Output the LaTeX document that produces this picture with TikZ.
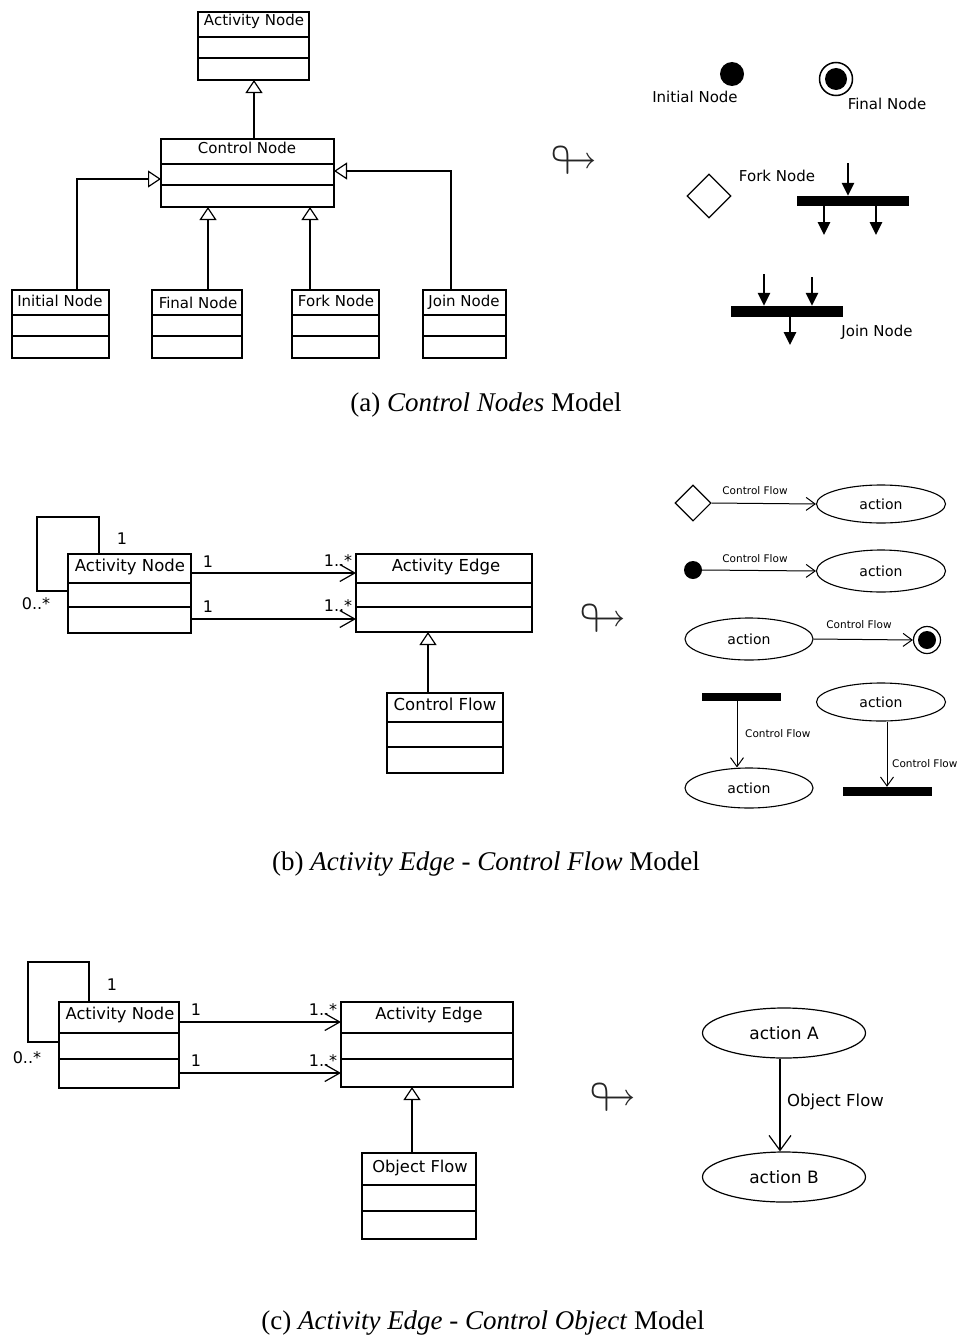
\documentclass[tikz,border=0pt]{standalone}
\usepackage{amssymb}
\usepackage{fontspec}
\setmainfont{Liberation Serif}
\newfontfamily\dv{DejaVu Sans}
\usetikzlibrary{arrows.meta,shapes.geometric}
\newcommand\bfs{15}
\newcommand\umlbox[9]{%
  \node[classbox, minimum width={(#4-#2)*1pt}, minimum height={(#5-#3)*1pt}] (#1) at ({(#2+#4)/2},{(#3+#5)/2}) {};
  \draw[divider] (#1.west |- 0,#6) -- (#1.east |- 0,#6);
  \draw[divider] (#1.west |- 0,#7) -- (#1.east |- 0,#7);
  \node[ctext, font={\dv\fontsize{\bfs}{\bfs}\selectfont}] (#1-t) at (#8) {#9};
}
\tikzset{
  classbox/.style={draw, line width=1.3pt, inner sep=0pt, outer sep=0pt},
  divider/.style={line width=2.3pt},
  ctext/.style={anchor=base, inner sep=0pt},
  conn/.style={line width=1.2pt},
  gen/.style={line width=1.2pt, -{Triangle[open, length=13pt, width=17pt]}},
  assoc/.style={line width=1.2pt, -{Straight Barb[length=15pt, width=17pt]}},
  cflow/.style={line width=1pt, -{Straight Barb[length=9pt, width=13pt]}},
  oflow/.style={line width=1.2pt, -{Straight Barb[length=15pt, width=22pt]}},
  forkarr/.style={line width=2.6pt, -{Triangle[length=13pt, width=12pt]}},
  mult/.style={font={\dv\fontsize{16}{19}\selectfont}, inner sep=0pt},
  symlbl/.style={font={\dv\fontsize{15}{18}\selectfont}, inner sep=0pt},
  cfl/.style={font={\dv\fontsize{10.5}{12}\selectfont}, inner sep=0pt},
  actell/.style={ellipse, draw, line width=1.1pt, inner sep=0pt, font={\dv\fontsize{14}{16}\selectfont}},
  bigell/.style={ellipse, draw, line width=1.2pt, inner sep=0pt, font={\dv\fontsize{17}{20}\selectfont}},
  dot/.style={circle, fill=black, inner sep=0pt},
  ring/.style={circle, draw, fill=white, line width=1.5pt, inner sep=0pt},
  bar/.style={fill=black, inner sep=0pt},
  loopsym/.style={inner sep=0pt, text=black!85, font={\fontsize{46}{50}\selectfont}},
  caption/.style={inner sep=0pt, font={\fontsize{27}{32}\selectfont}}
}
\begin{document}
\begin{tikzpicture}[x=1pt, y=-1pt]
\fill[white] (0,0) rectangle (962,1338);
\useasboundingbox (0,0) rectangle (962,1338);

% ---------------- (a) ----------------
\renewcommand\bfs{15}
\umlbox{an}{198}{12}{309}{80}{37}{58}{254,26}{Activity Node}
\umlbox{cn}{161}{139}{334}{207}{164}{185}{247,153}{Control Node}
\umlbox{in}{12}{290}{109}{358}{315}{336}{60,306}{Initial Node}
\umlbox{fn}{152}{290}{242}{358}{315}{336}{198,308}{Final Node}
\umlbox{fk}{292}{290}{379}{358}{315}{336}{336,306}{Fork Node}
\umlbox{jn}{423}{290}{506}{358}{315}{336}{464,306}{Join Node}
\draw[gen] (cn.north -| 254,0) -- (an.south -| 254,0);
\draw[gen] (in.north -| 77,0) |- (cn.west |- 0,179);
\draw[gen] (fn.north -| 208,0) -- (cn.south -| 208,0);
\draw[gen] (fk.north -| 310,0) -- (cn.south -| 310,0);
\draw[gen] (jn.north -| 451,0) |- (cn.east |- 0,171);

\node[loopsym] (la) at (574,160) {$\looparrowright$};

\node[dot, minimum size=24pt] (sinit) at (732,74) {};
\node[symlbl] (sinit-l) at (695,97) {Initial Node};
\node[ring, minimum size=33pt] (sfin) at (836,79) {};
\node[dot, minimum size=22pt] (sfin-i) at (836,79) {};
\node[symlbl] (sfin-l) at (887,104) {Final Node};
\node[diamond, draw, line width=1.2pt, inner sep=0pt, minimum size=44pt] (sdec) at (709,196) {};
\node[symlbl] (sfork-l) at (777,176) {Fork Node};
\node[bar, minimum width=112pt, minimum height=10pt] (fbar) at (853,201) {};
\coordinate (fin1) at (848,163);
\coordinate (fout1) at (824,235);
\coordinate (fout2) at (876,235);
\draw[forkarr] (fin1) -- (fbar.north -| fin1);
\draw[forkarr] (fbar.south -| fout1) -- (fout1);
\draw[forkarr] (fbar.south -| fout2) -- (fout2);
\node[bar, minimum width=112pt, minimum height=11pt] (jbar) at (787,311.5) {};
\coordinate (jin1) at (764,274);
\coordinate (jin2) at (812,277);
\coordinate (jout) at (790,345);
\draw[forkarr] (jin1) -- (jbar.north -| jin1);
\draw[forkarr] (jin2) -- (jbar.north -| jin2);
\draw[forkarr] (jbar.south -| jout) -- (jout);
\node[symlbl] (sjoin-l) at (877,332) {Join Node};

\node[caption] (capa) at (486,405) {(a) \textit{Control Nodes} Model};

% ---------------- (b) ----------------
\renewcommand\bfs{16.5}
\umlbox{anb}{68}{554}{191}{633}{583}{607}{130,571}{Activity Node}
\umlbox{aeb}{356}{554}{532}{632}{583}{607}{446,571}{Activity Edge}
\umlbox{cfb}{387}{693}{503}{773}{722}{747}{445,710}{Control Flow}
\draw[conn] (anb.north -| 99,0) |- (37,517) |- (anb.west |- 0,591);
\draw[assoc] (anb.east |- 0,573) -- (aeb.west |- 0,573);
\draw[assoc] (anb.east |- 0,619) -- (aeb.west |- 0,619);
\draw[gen] (cfb.north -| 428,0) -- (aeb.south -| 428,0);
\node[mult] (mb1) at (122,539) {1};
\node[mult] (mb2) at (36,604) {0..*};
\node[mult] (mb3) at (208,562) {1};
\node[mult] (mb4) at (338,561) {1..*};
\node[mult] (mb5) at (208,607) {1};
\node[mult] (mb6) at (338,606) {1..*};

\node[loopsym] (lb) at (603,618) {$\looparrowright$};

\node[diamond, draw, line width=1.1pt, inner sep=0pt, minimum size=36pt] (d1) at (693,503) {};
\node[actell, minimum width=129pt, minimum height=38pt] (e1) at (881,504) {action};
\draw[cflow] (d1.east) -- (e1.west);
\node[cfl] (l1) at (755,491) {Control Flow};

\node[dot, minimum size=18pt] (i2) at (693,570) {};
\node[actell, minimum width=129pt, minimum height=42pt] (e2) at (881,571) {action};
\draw[cflow] (i2.east) -- (e2.west);
\node[cfl] (l2) at (755,559) {Control Flow};

\node[actell, minimum width=128pt, minimum height=42pt] (e3) at (749,639) {action};
\node[ring, line width=1.2pt, minimum size=27pt] (f3) at (927,640) {};
\node[dot, minimum size=18pt] (f3i) at (927,640) {};
\draw[cflow] (e3.east) -- (f3.west);
\node[cfl] (l3) at (859,625) {Control Flow};

\node[bar, minimum width=79pt, minimum height=8pt] (b4) at (741.5,697) {};
\node[actell, minimum width=128pt, minimum height=40pt] (e4) at (749,788) {action};
\draw[cflow] (b4.south -| 737,0) -- (e4.north -| 737,0);
\node[cfl, anchor=west] (l4) at (745,734) {Control Flow};

\node[actell, minimum width=129pt, minimum height=38pt] (e5) at (881,702) {action};
\node[bar, minimum width=89pt, minimum height=9pt] (b5) at (887.5,791.5) {};
\draw[cflow] (e5.south -| 887,0) -- (b5.north -| 887,0);
\node[cfl, anchor=west] (l5) at (892,764) {Control Flow};

\node[caption] (capb) at (486,864) {(b) \textit{Activity Edge - Control Flow} Model};

% ---------------- (c) ----------------
\renewcommand\bfs{16.3}
\umlbox{anc}{59}{1002}{179}{1088}{1033}{1059}{120,1019}{Activity Node}
\umlbox{aec}{341}{1002}{513}{1087}{1033}{1059}{429,1019}{Activity Edge}
\umlbox{ofc}{362}{1153}{476}{1239}{1185}{1211}{420,1172}{Object Flow}
\draw[conn] (anc.north -| 89,0) |- (28,962) |- (anc.west |- 0,1042);
\draw[assoc] (anc.east |- 0,1022) -- (aec.west |- 0,1022);
\draw[assoc] (anc.east |- 0,1073) -- (aec.west |- 0,1073);
\draw[gen] (ofc.north -| 412,0) -- (aec.south -| 412,0);
\node[mult] (mc1) at (112,985) {1};
\node[mult] (mc2) at (27,1058) {0..*};
\node[mult] (mc3) at (196,1010) {1};
\node[mult] (mc4) at (323,1010) {1..*};
\node[mult] (mc5) at (196,1061) {1};
\node[mult] (mc6) at (323,1061) {1..*};

\node[loopsym] (lc) at (613,1097) {$\looparrowright$};

\node[bigell, minimum width=163pt, minimum height=50pt] (ea) at (784,1033) {action A};
\node[bigell, minimum width=163pt, minimum height=50pt] (eb) at (784,1177) {action B};
\draw[oflow] (ea.south -| 780,0) -- (eb.north -| 780,0);
\node[font={\dv\fontsize{16.5}{19}\selectfont}, inner sep=0pt, anchor=west] (lof) at (787,1102) {Object Flow};

\node[caption] (capc) at (483,1323) {(c) \textit{Activity Edge - Control Object} Model};
\end{tikzpicture}
\end{document}
